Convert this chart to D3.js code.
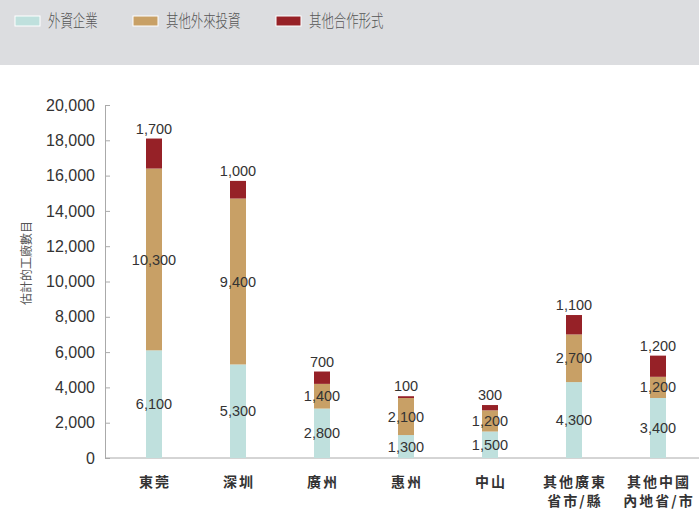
<!DOCTYPE html>
<html><head><meta charset="utf-8">
<script src="https://cdn.jsdelivr.net/npm/d3@7"></script>
<style>
body{margin:0;background:#fff;}
svg{display:block;}
text{font-family:"Liberation Sans",Arial,"Noto Sans CJK TC",sans-serif;}
.cjk{font-family:"Noto Sans CJK TC","Liberation Sans",sans-serif;}
</style></head>
<body>
<svg id="chart" width="699" height="511"></svg>
<script>
const categories = [["東莞"],["深圳"],["廣州"],["惠州"],["中山"],["其他廣東","省市/縣"],["其他中國","內地省/市"]];
const seriesNames = ["外資企業","其他外來投資","其他合作形式"];
const foreignEnterprises = [6100,5300,2800,1300,1500,4300,3400];
const otherForeignInvestment = [10300,9400,1400,2100,1200,2700,1200];
const otherCooperation = [1700,1000,700,100,300,1100,1200];
const yTicks = [0,2000,4000,6000,8000,10000,12000,14000,16000,18000,20000];
const yTitle = "估計的工廠數目";
const colors = ["#bfe0dd","#c8a066","#962127"];

const svg = d3.select("#chart");
const W = 699, H = 511;

// header band
svg.append("rect").attr("x",0).attr("y",0).attr("width",W).attr("height",65).attr("fill","#dcdde0");

// legend
const legendX = [15,133,276];
seriesNames.forEach((n,i)=>{
  const g = svg.append("g").attr("transform",`translate(${legendX[i]},16)`);
  g.append("rect").attr("width",25).attr("height",10).attr("fill",colors[i]).attr("stroke","#fff").attr("stroke-width",1);
  g.append("text").attr("class","cjk").attr("x",33).attr("y",5).attr("dy","0.36em")
    .attr("font-size",17).attr("font-weight",300).attr("fill","#555").attr("textLength",n.length*12.4).attr("lengthAdjust","spacingAndGlyphs").text(n);
});

const y = d3.scaleLinear().domain([0,20000]).range([458,105]);
const x = d3.scaleBand().domain(d3.range(categories.length)).range([112,700]).padding(0);
const barW = 16;

// axes
const yAxis = d3.axisLeft(y).tickValues(yTicks).tickFormat(d3.format(",")).tickSizeInner(-5).tickSizeOuter(0).tickPadding(10);
const ga = svg.append("g").attr("transform","translate(105,0)").call(yAxis);
ga.selectAll("path,line").attr("stroke","#aaa");
ga.selectAll("text").attr("font-size",16).attr("fill","#333").attr("font-family","Liberation Sans, Arial, sans-serif");

svg.append("line").attr("x1",105).attr("x2",W).attr("y1",y(0)).attr("y2",y(0)).attr("stroke","#aaa").attr("stroke-width",1);

svg.append("text").attr("class","cjk").attr("transform",`translate(31,263) rotate(-90)`)
  .attr("text-anchor","middle").attr("font-size",12).attr("fill","#555").text(yTitle);

// stacks
const rows = categories.map((c,i)=>({i, a:foreignEnterprises[i], b:otherForeignInvestment[i], c:otherCooperation[i]}));
const stack = d3.stack().keys(["a","b","c"])(rows);
stack.forEach((layer,k)=>{
  svg.append("g").selectAll("rect").data(layer).join("rect")
    .attr("x",d=>x(d.data.i)+x.bandwidth()/2-barW/2)
    .attr("width",barW)
    .attr("y",d=>y(d[1]))
    .attr("height",d=>y(d[0])-y(d[1]))
    .attr("fill",colors[k]);
});
const fmt = d3.format(",");
stack.forEach((layer,k)=>{
  svg.append("g").selectAll("text").data(layer).join("text")
    .attr("x",d=>x(d.data.i)+x.bandwidth()/2)
    .attr("y",d=> k===2 ? y(d[1])-5 : (y(d[0])+y(d[1]))/2)
    .attr("dy", k===2 ? "0" : "0.35em")
    .attr("text-anchor","middle").attr("font-size",14.5).attr("fill","#333")
    .text(d=>fmt(d[1]-d[0]));
});

// x labels
categories.forEach((lines,i)=>{
  const t = svg.append("text").attr("class","cjk").attr("text-anchor","middle")
    .attr("font-size",14).attr("font-weight","bold").attr("fill","#333").attr("letter-spacing","2px");
  lines.forEach((l,j)=>{
    t.append("tspan").attr("x",x(i)+x.bandwidth()/2+1).attr("y",487+j*19).text(l);
  });
});
</script>
</body></html>
